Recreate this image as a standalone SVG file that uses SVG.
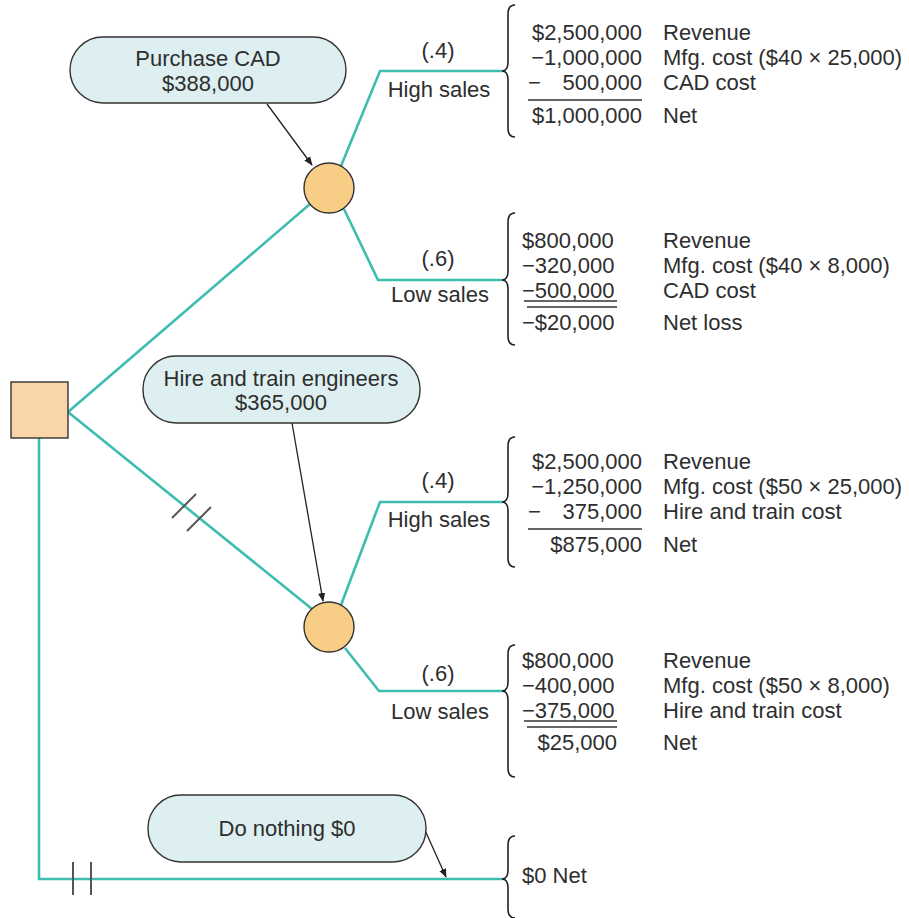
<svg xmlns="http://www.w3.org/2000/svg" width="909" height="918" viewBox="0 0 909 918">
  <defs>
    <marker id="arrow" viewBox="0 0 10 10" refX="9" refY="5" markerWidth="9" markerHeight="9" markerUnits="userSpaceOnUse" orient="auto">
      <path d="M0,1 L10,5 L0,9 z" fill="#222"/>
    </marker>
    <style>
      text { font-family: "Liberation Sans", Arial, sans-serif; font-size: 22px; fill: #2e2e2e; }
      .mid { text-anchor: middle; }
      .end { text-anchor: end; }
      .branch { fill: none; stroke: #3dbdb0; stroke-width: 2.6; stroke-linejoin: miter; }
      .pointer { fill: none; stroke: #222; stroke-width: 1.3; marker-end: url(#arrow); }
      .cost { fill: #ddeff0; stroke: #333; stroke-width: 1.4; }
      .chance { fill: #f8cd85; stroke: #333; stroke-width: 1.4; }
      .decision { fill: #fbd5aa; stroke: #333; stroke-width: 1.4; }
      .brace { fill: none; stroke: #222; stroke-width: 1.6; }
      .rule { stroke: #333; stroke-width: 1.3; }
      .hash { stroke: #555; stroke-width: 2; }
    </style>
  </defs>

  <rect width="909" height="918" fill="#fff"/>

  <!-- tree branches -->
  <g id="connectors">
    <path class="branch" d="M68,412 L310,204"/>
    <path class="branch" d="M68,412 L312,609"/>
    <path class="branch" d="M39,438 L39,879 L503,879"/>
    <path class="branch" d="M341,166 L380,71 L503,71"/>
    <path class="branch" d="M344,209 L378,280 L503,280"/>
    <path class="branch" d="M341,605 L380,502 L503,502"/>
    <path class="branch" d="M345,648 L379,691 L503,691"/>
    <!-- double hash marks on the blocked alternatives -->
    <line class="hash" x1="172" y1="518" x2="196" y2="494"/>
    <line class="hash" x1="187" y1="531" x2="211" y2="507"/>
    <line class="hash" x1="73" y1="862" x2="73" y2="895"/>
    <line class="hash" x1="91" y1="862" x2="91" y2="895"/>
    <!-- cost call-out pointers -->
    <path class="pointer" d="M267,104 L312,165"/>
    <path class="pointer" d="M292,423 L323,601"/>
    <path class="pointer" d="M424,828 L446,877"/>
  </g>

  <!-- decision node -->
  <g id="decision">
    <rect class="decision" x="11" y="382" width="57" height="56"/>
  </g>

  <!-- chance nodes -->
  <g id="chance-cad">
    <circle class="chance" cx="329" cy="188" r="25"/>
  </g>
  <g id="chance-engineers">
    <circle class="chance" cx="329" cy="627" r="25"/>
  </g>

  <!-- cost call-outs -->
  <g id="cost-cad">
    <rect class="cost" x="70" y="37" width="276" height="66" rx="33" ry="33"/>
    <text class="mid" x="208" y="66">Purchase CAD</text>
    <text class="mid" x="208" y="91">$388,000</text>
  </g>
  <g id="cost-engineers">
    <rect class="cost" x="143" y="356" width="277" height="67" rx="33" ry="33"/>
    <text class="mid" x="281" y="386">Hire and train engineers</text>
    <text class="mid" x="281" y="410">$365,000</text>
  </g>
  <g id="cost-nothing">
    <rect class="cost" x="148" y="795" width="278" height="67" rx="33" ry="33"/>
    <text class="mid" x="287" y="836">Do nothing $0</text>
  </g>

  <!-- branch labels -->
  <g id="labels-cad">
    <text class="mid" x="438" y="58">(.4)</text>
    <text class="mid" x="439" y="97">High sales</text>
    <text class="mid" x="438" y="266">(.6)</text>
    <text class="mid" x="440" y="302">Low sales</text>
  </g>
  <g id="labels-engineers">
    <text class="mid" x="438" y="488">(.4)</text>
    <text class="mid" x="439" y="527">High sales</text>
    <text class="mid" x="438" y="681">(.6)</text>
    <text class="mid" x="440" y="719">Low sales</text>
  </g>

  <!-- outcome: CAD, high sales -->
  <g id="outcome-cad-high">
    <path class="brace" d="M515,5 Q508,5 508,14 L508,62 Q508,71 502,71 Q508,71 508,80 L508,128 Q508,137 515,137"/>
    <text class="end" x="642" y="40">$2,500,000</text>
    <text class="end" x="642" y="65">−1,000,000</text>
    <text x="528" y="90">−</text>
    <text class="end" x="642" y="90">500,000</text>
    <line class="rule" x1="528" y1="100" x2="642" y2="100"/>
    <text class="end" x="642" y="123">$1,000,000</text>
    <text x="663" y="40">Revenue</text>
    <text x="663" y="65">Mfg. cost ($40 × 25,000)</text>
    <text x="663" y="90">CAD cost</text>
    <text x="663" y="123">Net</text>
  </g>

  <!-- outcome: CAD, low sales -->
  <g id="outcome-cad-low">
    <path class="brace" d="M515,213 Q508,213 508,222 L508,271 Q508,280 502,280 Q508,280 508,289 L508,336 Q508,345 515,345"/>
    <text x="522" y="248">$800,000</text>
    <text x="522" y="273">−320,000</text>
    <text x="522" y="298">−500,000</text>
    <line class="rule" x1="524" y1="301" x2="617" y2="301"/>
    <line class="rule" x1="527" y1="307" x2="617" y2="307"/>
    <text x="522" y="330">−$20,000</text>
    <text x="663" y="248">Revenue</text>
    <text x="663" y="273">Mfg. cost ($40 × 8,000)</text>
    <text x="663" y="298">CAD cost</text>
    <text x="663" y="330">Net loss</text>
  </g>

  <!-- outcome: engineers, high sales -->
  <g id="outcome-engineers-high">
    <path class="brace" d="M515,437 Q508,437 508,446 L508,493 Q508,502 502,502 Q508,502 508,511 L508,558 Q508,567 515,567"/>
    <text class="end" x="642" y="469">$2,500,000</text>
    <text class="end" x="642" y="494">−1,250,000</text>
    <text x="528" y="519">−</text>
    <text class="end" x="642" y="519">375,000</text>
    <line class="rule" x1="528" y1="529" x2="642" y2="529"/>
    <text class="end" x="642" y="552">$875,000</text>
    <text x="663" y="469">Revenue</text>
    <text x="663" y="494">Mfg. cost ($50 × 25,000)</text>
    <text x="663" y="519">Hire and train cost</text>
    <text x="663" y="552">Net</text>
  </g>

  <!-- outcome: engineers, low sales -->
  <g id="outcome-engineers-low">
    <path class="brace" d="M515,645 Q508,645 508,654 L508,682 Q508,691 502,691 Q508,691 508,700 L508,768 Q508,777 515,777"/>
    <text x="522" y="668">$800,000</text>
    <text x="522" y="693">−400,000</text>
    <text x="522" y="718">−375,000</text>
    <line class="rule" x1="524" y1="721" x2="617" y2="721"/>
    <line class="rule" x1="527" y1="727" x2="617" y2="727"/>
    <text class="end" x="617" y="750">$25,000</text>
    <text x="663" y="668">Revenue</text>
    <text x="663" y="693">Mfg. cost ($50 × 8,000)</text>
    <text x="663" y="718">Hire and train cost</text>
    <text x="663" y="750">Net</text>
  </g>

  <!-- outcome: do nothing -->
  <g id="outcome-nothing">
    <path class="brace" d="M515,836 Q508,836 508,845 L508,870 Q508,879 502,879 Q508,879 508,888 L508,909 Q508,918 515,918"/>
    <text x="522" y="883">$0 Net</text>
  </g>
</svg>
